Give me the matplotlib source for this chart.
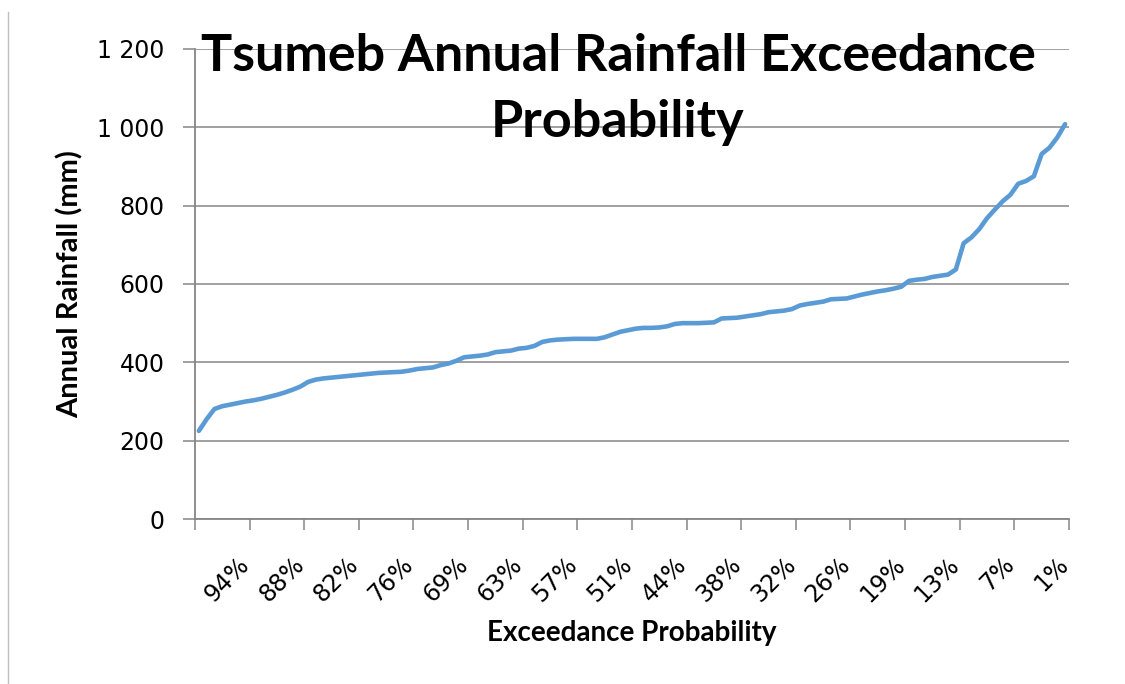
import numpy as np
import matplotlib
matplotlib.use("Agg")
from matplotlib import pyplot as plt
from matplotlib.ticker import FuncFormatter
from matplotlib.lines import Line2D

# annual rainfall sorted from driest to wettest
rainfall = [225, 255, 281, 288, 292, 296, 300, 303, 307, 312,
            317, 323, 330, 338, 350, 356, 359, 361, 363, 365,
            367, 369, 371, 373, 374, 375, 376, 379, 383, 385,
            387, 393, 397, 404, 413, 415, 417, 420, 426, 428,
            430, 435, 437, 442, 452, 456, 458, 459, 460, 460,
            460, 460, 464, 471, 478, 482, 486, 488, 488, 489,
            492, 498, 500, 500, 500, 501, 502, 512, 513, 514,
            517, 520, 523, 528, 530, 532, 536, 545, 549, 552,
            555, 561, 562, 563, 568, 573, 577, 581, 584, 588,
            593, 608, 611, 613, 618, 621, 624, 637, 704, 719,
            740, 768, 790, 811, 828, 856, 863, 875, 932, 948,
            974, 1008]

tick_labels = ["94%", "88%", "82%", "76%", "69%", "63%", "57%", "51%",
               "44%", "38%", "32%", "26%", "19%", "13%", "7%", "1%"]
label_step = 7

n = len(rainfall)
x = np.arange(1, n + 1)

fig = plt.figure(figsize=(11.25, 6.84), dpi=100)
ax = fig.add_axes([0.1733, 0.2412, 0.7769, 0.6872])

ax.plot(x, rainfall, color="#5B9BD5", linewidth=3.3, solid_capstyle="round")

ax.set_xlim(0.5, n + 0.5)
ax.set_ylim(0, 1200)
ax.set_yticks(range(0, 1201, 200))
ax.yaxis.set_major_formatter(FuncFormatter(lambda v, p: f"{v:,.0f}".replace(",", " ")))
ax.grid(axis="y", color="#868686", linewidth=1.1)
ax.set_axisbelow(True)

# tick marks on category boundaries, labels on every 7th category
ax.set_xticks(np.arange(0.5, n + 1, label_step))
ax.set_xticklabels([])
ax.set_xticks(np.arange(label_step, n + 1, label_step), minor=True)
ax.set_xticklabels(tick_labels, minor=True, rotation=45, ha="right", va="center",
                   rotation_mode="anchor", fontsize=17, family="DejaVu Sans")
ax.tick_params(axis="x", which="minor", length=0, pad=30)
ax.tick_params(axis="x", which="major", length=8, width=1.1, color="#868686", direction="out")
ax.tick_params(axis="y", length=9, width=1.1, color="#868686", pad=13, labelsize=17)

for s in ["top", "right"]:
    ax.spines[s].set_visible(False)
for s in ["left", "bottom"]:
    ax.spines[s].set_color("#868686")
    ax.spines[s].set_linewidth(1.3)

ax.set_ylabel("Annual Rainfall (mm)", family="Lato", fontweight="bold", fontsize=21, labelpad=10)
ax.set_xlabel("Exceedance Probability", family="Lato", fontweight="bold", fontsize=20, labelpad=10)

fig.text(618 / 1125, 1 - 33 / 684, "Tsumeb Annual Rainfall Exceedance\nProbability",
         ha="center", va="top", multialignment="center", family="Lato",
         fontweight="bold", fontsize=37.5, linespacing=1.5)

fig.add_artist(Line2D([8 / 1125, 8 / 1125], [0, 1 - 12 / 684], color="#bfbfbf", linewidth=1))

fig.savefig("out.png", dpi=100)
